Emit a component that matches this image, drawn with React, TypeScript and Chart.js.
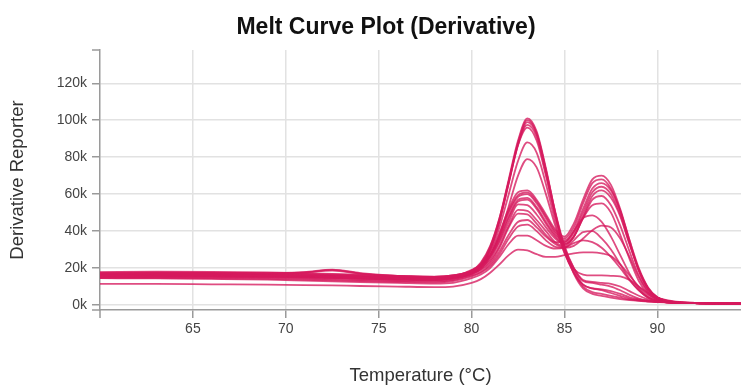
import React, { useEffect, useRef } from "react";
import { Chart, registerables } from "chart.js";

Chart.register(...registerables);

// Temperature grid (°C) shared by every well trace
const temperatures = [
  60, 63, 66, 69, 71, 72.5, 74, 76, 78, 79,
  80, 80.5, 81, 81.5, 82, 82.5, 83, 83.5, 84, 84.5,
  85, 85.5, 86, 86.5, 87, 87.5, 88, 88.5, 89, 89.5,
  90, 90.5, 91, 92, 94.5,
];

// Derivative reporter values, in thousands
// Wells with a single product peak near 83 °C
const wellA1 = [17.5, 17.6, 17.5, 17.2, 16.9, 16.6, 16.2, 15.6, 15.2, 16.0,
  18.5, 22.5, 31.5, 47, 68, 89, 101, 94, 74, 50,
  30, 17, 9, 6, 5, 4, 3.2, 2.6, 2.2, 1.9, 1.6, 1.4, 1.2, 1.0, 0.7];
const wellA2 = [16.8, 17.0, 17.0, 16.8, 17.5, 19.0, 17.0, 15.3, 14.8, 15.5,
  18, 22, 31, 46, 67, 88, 100, 93, 73, 50,
  31, 19, 11, 9, 8, 6.5, 5, 3.5, 2.6, 2, 1.7, 1.5, 1.3, 1.0, 0.7];
const wellA3 = [16.0, 16.3, 16.3, 16.0, 15.8, 15.6, 15.2, 14.8, 14.5, 15.2,
  17.5, 21.5, 30, 45, 66, 87, 99, 92.5, 73, 50.5,
  32, 20, 13, 12, 11, 10, 8, 5.5, 3.5, 2.4, 1.8, 1.5, 1.3, 1.0, 0.7];
const wellA4 = [17.0, 17.3, 17.4, 17.2, 17.8, 19.2, 17.3, 15.8, 15.3, 16.0,
  18.5, 23, 32, 47, 67, 87, 97.5, 91, 71, 48.5,
  29.5, 17.5, 10, 7, 6, 5, 4, 3, 2.4, 2, 1.7, 1.5, 1.3, 1.0, 0.7];
const wellA5 = [15.5, 15.7, 15.8, 15.6, 15.3, 15.0, 14.7, 14.3, 14.0, 14.8,
  17, 21, 30, 45.5, 66, 86.5, 96, 89, 70, 48.5,
  31, 20, 13.5, 12.5, 12, 11.5, 10, 7.5, 5, 3, 2, 1.6, 1.3, 1.0, 0.7];
const wellA6 = [16.5, 16.7, 16.7, 16.5, 16.2, 16.0, 15.6, 15.0, 14.6, 15.4,
  17.5, 21, 29, 42, 60, 78, 88, 82.5, 65.5, 45.5,
  28.5, 17.5, 11, 9, 8.5, 7.5, 6, 4.2, 3, 2.2, 1.8, 1.5, 1.3, 1.0, 0.7];
const wellA7 = [15.0, 15.2, 15.3, 15.1, 14.8, 14.6, 14.2, 13.8, 13.5, 14.3,
  16.5, 19.5, 26.5, 37.5, 53.5, 70, 79, 74.5, 60, 43,
  28, 19.5, 16.5, 16, 16, 15.8, 15.5, 13.5, 10, 6.5, 4, 2.6, 1.8, 1.2, 0.8];

// Wells with two melt peaks (near 83 °C and 87 °C)
const wellB1 = [17.8, 18.0, 17.9, 17.6, 17.2, 16.9, 16.4, 15.8, 15.2, 15.5,
  19, 22, 28, 39, 52, 61, 62, 57, 49, 41,
  37, 44, 57, 68, 70, 65, 52, 35, 19, 9, 4, 2.3, 1.6, 1.1, 0.8];
const wellB2 = [17.2, 17.4, 17.4, 17.1, 17.6, 18.6, 17.0, 15.7, 15.2, 16.0,
  18.5, 21.5, 27, 38, 51, 59.5, 61, 56, 48, 40,
  36, 42, 55, 66, 68, 63, 51, 34, 18.5, 8.5, 3.8, 2.2, 1.5, 1.1, 0.8];
const wellB3 = [16.2, 16.4, 16.4, 16.2, 15.9, 15.6, 15.2, 14.7, 14.4, 15.0,
  18, 21, 27, 37, 50, 58.5, 60, 55, 47, 39,
  35, 40, 52, 63, 66, 62, 51, 35, 20, 9.5, 4.2, 2.4, 1.6, 1.1, 0.8];
const wellB4 = [16.9, 17.1, 17.1, 16.8, 16.5, 16.2, 15.8, 15.2, 14.8, 15.5,
  18, 21, 26.5, 36, 48, 57, 58, 53, 45, 38,
  34, 39, 50, 61, 64, 60, 49, 33, 19, 9, 4, 2.3, 1.5, 1.1, 0.8];
const wellB5 = [15.2, 15.4, 15.4, 15.2, 14.9, 14.6, 14.2, 13.8, 13.5, 14.5,
  17.5, 20.5, 26, 35, 47, 56, 57, 52, 44, 37,
  33, 37, 48, 59, 62, 58, 48, 33, 19, 9, 4, 2.3, 1.5, 1.1, 0.8];
const wellB6 = [16.4, 16.6, 16.6, 16.3, 16.0, 15.7, 15.3, 14.7, 14.3, 15.0,
  17.5, 20, 25, 34, 45, 54.5, 54, 49, 42, 36,
  33, 37, 47, 57, 59, 54, 43, 29, 16, 7.5, 3.5, 2, 1.4, 1.0, 0.8];
const wellB7 = [15.6, 15.8, 15.7, 15.5, 15.2, 14.8, 14.3, 13.8, 13.4, 14.0,
  17, 19.5, 24, 32, 43, 51.5, 51, 46, 40, 34,
  32, 37, 47, 54, 55, 50, 38, 25, 13, 6, 3, 1.8, 1.3, 1.0, 0.7];
const wellB8 = [16.0, 16.2, 16.1, 15.8, 15.4, 15.0, 14.5, 14.0, 13.7, 14.5,
  17, 19, 23, 31, 42, 49.5, 49, 44, 38, 34,
  34, 40, 47, 48.5, 45, 37, 27, 17, 9, 4.5, 2.5, 1.6, 1.2, 1.0, 0.7];
const wellB9 = [15.0, 15.1, 15.0, 14.7, 14.3, 13.9, 13.5, 13.0, 12.8, 13.5,
  16, 18, 22, 29, 38, 45, 46, 42, 37, 33,
  31, 32, 36, 40.5, 43, 42, 36, 26, 15, 7, 3.2, 1.9, 1.3, 1.0, 0.7];
const wellB10 = [14.6, 14.6, 14.4, 14.1, 13.7, 13.4, 13.0, 12.6, 12.3, 13.0,
  15.5, 17.5, 21, 27.5, 36, 42.5, 43.5, 40, 35, 31.5,
  31, 35, 39.5, 40, 36, 30, 22, 14, 8, 4, 2.3, 1.5, 1.2, 1.0, 0.7];
const wellB11 = [14.5, 14.4, 14.1, 13.7, 13.2, 12.8, 12.4, 12.0, 11.6, 12.0,
  14.5, 16.5, 20, 26, 33, 37.5, 37.5, 35, 32, 30.5,
  31, 33.5, 35, 34, 31, 26, 20, 13.5, 8, 4, 2.2, 1.5, 1.2, 1.0, 0.7];
const wellB12 = [11.4, 11.4, 11.2, 11.0, 10.8, 10.6, 10.3, 10.0, 9.7, 10.0,
  12, 14, 17.5, 22, 27, 30, 29.5, 27.5, 26, 26,
  27, 28, 28.5, 28.5, 28, 26.5, 22, 16, 10, 5.5, 3, 1.8, 1.3, 1.0, 0.7];

const wells = [
  wellA1, wellA2, wellA3, wellA4, wellA5, wellA6, wellA7,
  wellB1, wellB2, wellB3, wellB4, wellB5, wellB6, wellB7,
  wellB8, wellB9, wellB10, wellB11, wellB12,
];

const chartTitle = "Melt Curve Plot (Derivative)";
const xTitle = "Temperature (°C)";
const yTitle = "Derivative Reporter";

const FONT = '"Liberation Sans", Arial, sans-serif';
const LINE_COLOR = "rgba(214, 26, 94, 0.78)";
const AXIS_COLOR = "#9a9a9a";
const GRID_COLOR = "#e2e2e2";

const decorations = {
  id: "decorations",
  afterDraw(chart: any) {
    const { ctx, chartArea } = chart;
    const { left, right, top, bottom } = chartArea;
    ctx.save();

    // outer ticks at the ends of both axis lines
    ctx.strokeStyle = AXIS_COLOR;
    ctx.lineWidth = 1.5;
    ctx.beginPath();
    ctx.moveTo(left - 8, top);
    ctx.lineTo(left, top);
    ctx.moveTo(left - 8, bottom);
    ctx.lineTo(left, bottom);
    ctx.moveTo(left, bottom);
    ctx.lineTo(left, bottom + 8);
    ctx.stroke();

    ctx.textAlign = "center";
    ctx.textBaseline = "alphabetic";

    ctx.fillStyle = "#111";
    ctx.font = `bold 23px ${FONT}`;
    ctx.fillText(chartTitle, 386, 34);

    ctx.fillStyle = "#333";
    ctx.font = `18.5px ${FONT}`;
    ctx.fillText(xTitle, (left + right) / 2, 381);

    ctx.translate(23, (top + bottom) / 2);
    ctx.rotate(-Math.PI / 2);
    ctx.fillText(yTitle, 0, 0);
    ctx.restore();
  },
};

export default function App() {
  const canvasRef = useRef<HTMLCanvasElement | null>(null);

  useEffect(() => {
    const canvas = canvasRef.current;
    if (!canvas) return;

    const datasets = wells.map((values, i) => ({
      label: `Well ${i + 1}`,
      data: temperatures.map((t, j) => ({ x: t, y: values[j] })),
      borderColor: LINE_COLOR,
      borderWidth: 1.8,
      pointRadius: 0,
      fill: false,
      cubicInterpolationMode: "monotone" as const,
    }));

    const chart = new Chart(canvas, {
      type: "line",
      data: { datasets },
      options: {
        responsive: false,
        animation: false,
        layout: { padding: { top: 50, left: 0, right: 0, bottom: 0 } },
        plugins: {
          legend: { display: false },
          tooltip: { enabled: false },
          title: { display: false },
        },
        scales: {
          x: {
            type: "linear",
            min: 60,
            max: 94.5,
            afterFit: (scale: any) => {
              scale.height = 77;
            },
            ticks: {
              stepSize: 5,
              includeBounds: false,
              padding: 3,
              color: "#444",
              font: { family: FONT, size: 14 },
              callback: (v: any) => (v === 60 ? null : String(v)),
            },
            grid: {
              color: GRID_COLOR,
              lineWidth: 1.5,
              tickLength: 8,
              tickColor: AXIS_COLOR,
            },
            border: { color: AXIS_COLOR, width: 1.5 },
          },
          y: {
            type: "linear",
            min: -2.7,
            max: 138,
            afterFit: (scale: any) => {
              scale.width = 100;
            },
            ticks: {
              stepSize: 20,
              includeBounds: false,
              padding: 5,
              color: "#444",
              font: { family: FONT, size: 14 },
              callback: (v: any) => `${v}k`,
            },
            grid: {
              color: GRID_COLOR,
              lineWidth: 1.5,
              tickLength: 8,
              tickColor: AXIS_COLOR,
            },
            border: { color: AXIS_COLOR, width: 1.5 },
          },
        },
      },
      plugins: [decorations],
    });

    return () => chart.destroy();
  }, []);

  return (
    <div style={{ position: "fixed", left: 0, top: 0, width: 741, height: 387, background: "#fff" }}>
      <canvas ref={canvasRef} width={741} height={387} style={{ width: 741, height: 387, display: "block" }} />
    </div>
  );
}
